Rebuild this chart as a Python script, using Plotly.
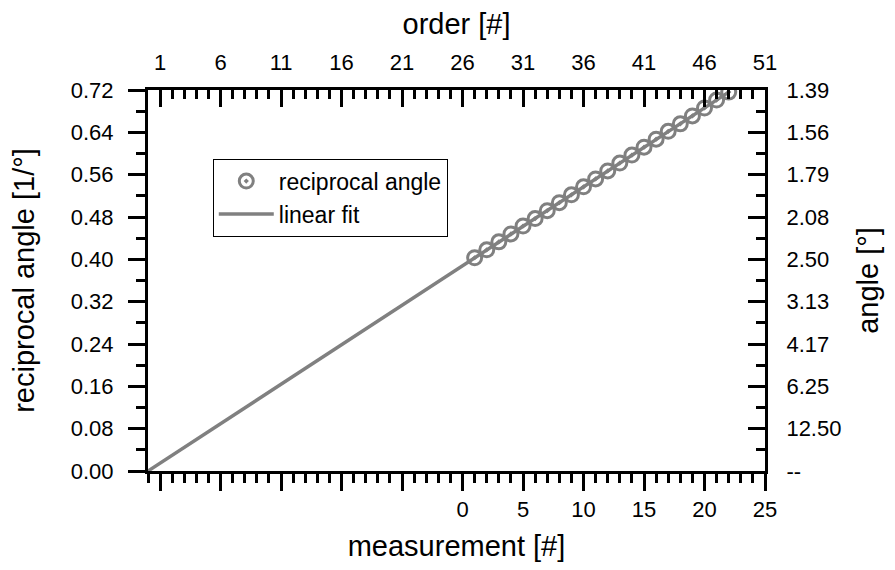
import plotly.graph_objects as go

# data
measurement = list(range(1, 23))
reciprocal_angle = [0.403, 0.418, 0.433, 0.448, 0.463, 0.477, 0.492, 0.507, 0.522, 0.537, 0.552,
                    0.567, 0.582, 0.597, 0.612, 0.627, 0.642, 0.656, 0.671, 0.686, 0.701, 0.716]
fit_x = [-26, 22]
fit_y = [0.0, 0.716]

bottom_tickvals = [-25, -20, -15, -10, -5, 0, 5, 10, 15, 20, 25]
bottom_ticktext = ["", "", "", "", "", "0", "5", "10", "15", "20", "25"]
top_tickvals = [1, 6, 11, 16, 21, 26, 31, 36, 41, 46, 51]
left_tickvals = [0.0, 0.08, 0.16, 0.24, 0.32, 0.40, 0.48, 0.56, 0.64, 0.72]
right_ticktext = ["--", "12.50", "6.25", "4.17", "3.13", "2.50", "2.08", "1.79", "1.56", "1.39"]

GRAY = "#808080"
FONT = "Arial, Liberation Sans, sans-serif"

fig = go.Figure()
fig.add_trace(go.Scatter(x=measurement, y=reciprocal_angle, mode="markers", name="reciprocal angle",
                         marker=dict(symbol="circle-open-dot", size=14, color=GRAY,
                                     line=dict(width=3, color=GRAY))))
fig.add_trace(go.Scatter(x=fit_x, y=fit_y, mode="lines", name="linear fit",
                         line=dict(color=GRAY, width=3.5)))

tickfont = dict(family=FONT, size=22, color="black")
titlefont = dict(family=FONT, size=29, color="black")

common = dict(tickwidth=3, tickcolor="black", showline=True, linecolor="black", linewidth=3,
              showgrid=False, zeroline=False, tickfont=tickfont, automargin=False)

fig.update_layout(
    width=879, height=554,
    margin=dict(l=140, r=122, t=82, b=91),
    plot_bgcolor="white", paper_bgcolor="white",
    font=dict(family=FONT, color="black"),
    showlegend=True,
    legend=dict(x=0.105, y=0.82, xanchor="left", yanchor="top",
                bgcolor="white", bordercolor="black", borderwidth=1,
                font=dict(family=FONT, size=23, color="black"),
                itemwidth=55, tracegroupgap=0),
    xaxis=dict(range=[-26, 25], tickmode="array", tickvals=bottom_tickvals, ticktext=bottom_ticktext,
               ticks="outside", ticklen=17, ticklabelstandoff=0,
               minor=dict(dtick=1, tick0=0, ticks="outside", ticklen=9, tickwidth=3, tickcolor="black", showgrid=False),
               title=dict(text="measurement [#]", font=titlefont, standoff=16), **common),
    xaxis2=dict(range=[0, 51], overlaying="x", side="top", tickmode="array", tickvals=top_tickvals,
                ticks="inside", ticklen=17, ticklabelstandoff=8,
                minor=dict(dtick=1, tick0=0, ticks="inside", ticklen=9, tickwidth=3, tickcolor="black", showgrid=False),
                title=dict(text="order [#]", font=titlefont, standoff=12), **common),
    yaxis=dict(range=[0, 0.72], tickmode="array", tickvals=left_tickvals,
               ticktext=[f"{v:.2f}" for v in left_tickvals],
               ticks="outside", ticklen=17, ticklabelstandoff=10,
               minor=dict(dtick=0.04, tick0=0, ticks="outside", ticklen=9, tickwidth=3, tickcolor="black", showgrid=False),
               title=dict(text="reciprocal angle [1/°]", font=titlefont, standoff=34), **common),
    yaxis2=dict(range=[0, 0.72], overlaying="y", side="right", tickmode="array", tickvals=left_tickvals,
                ticktext=right_ticktext,
                ticks="inside", ticklen=17, ticklabelstandoff=14,
                minor=dict(dtick=0.04, tick0=0, ticks="inside", ticklen=9, tickwidth=3, tickcolor="black", showgrid=False),
                title=dict(text="angle [°]", font=titlefont, standoff=18), **common),
)

# invisible trace to activate the secondary axes
fig.add_trace(go.Scatter(x=[0], y=[0], xaxis="x2", yaxis="y2", mode="markers",
                         marker=dict(opacity=0), showlegend=False, hoverinfo="skip"))

fig.write_html("out.html")
